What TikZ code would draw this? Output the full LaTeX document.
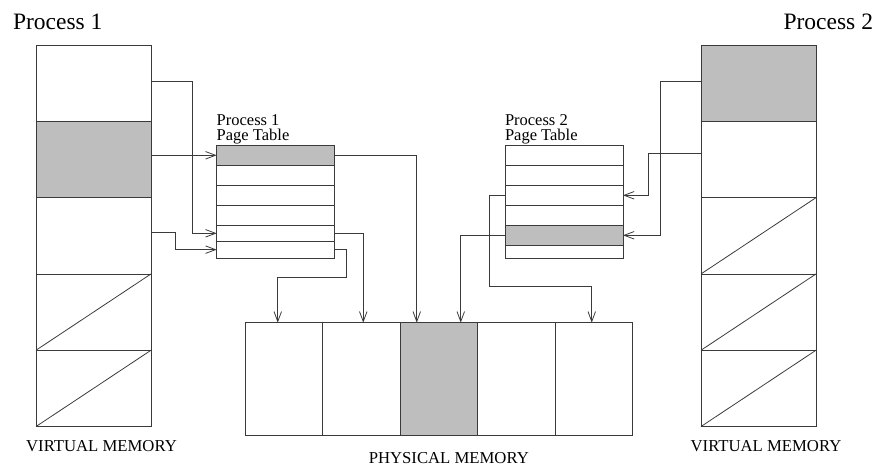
\documentclass[tikz,border=0pt]{standalone}
\usepackage{fontspec}
\setmainfont{Liberation Serif}
\usetikzlibrary{arrows.meta, positioning}
\definecolor{pagegray}{HTML}{BEBEBE}
\definecolor{lineink}{HTML}{3A3A3A}

\begin{document}
\begin{tikzpicture}[
    x=1pt, y=-1pt,
    every node/.style={inner sep=0pt, outer sep=0pt},
    ink/.style={draw=lineink, line width=0.8pt},
    frame/.style={rectangle, ink},
    vmseg/.style={frame, minimum width=115pt, minimum height=76.3pt},
    ptrow/.style={frame, minimum width=118pt},
    pmpage/.style={frame, minimum width=77.5pt, minimum height=113pt},
    inuse/.style={fill=pagegray},
    link/.style={ink, -{Straight Barb[length=10pt,width=7.5pt]}},
    title/.style={font=\fontsize{23.5}{26}\selectfont},
    ptlabel/.style={font=\fontsize{16.5}{15.2}\selectfont, align=left},
    memlabel/.style={font=\fontsize{16.7}{18}\selectfont},
]
\useasboundingbox (0,0) rectangle (876,465);

%% ============ VIRTUAL MEMORY, PROCESS 1 ============
\node[vmseg] (vl1) at (93.5, 83.2) {};
\node[vmseg, inuse, below=0pt of vl1] (vl2) {};
\node[vmseg, below=0pt of vl2] (vl3) {};
\node[vmseg, below=0pt of vl3] (vl4) {};
\node[vmseg, below=0pt of vl4] (vl5) {};
\draw[ink] (vl4.south west) -- (vl4.north east);
\draw[ink] (vl5.south west) -- (vl5.north east);

%% ============ VIRTUAL MEMORY, PROCESS 2 ============
\node[vmseg, inuse] (vr1) at (758.5, 83.2) {};
\node[vmseg, below=0pt of vr1] (vr2) {};
\node[vmseg, below=0pt of vr2] (vr3) {};
\node[vmseg, below=0pt of vr3] (vr4) {};
\node[vmseg, below=0pt of vr4] (vr5) {};
\draw[ink] (vr3.south west) -- (vr3.north east);
\draw[ink] (vr4.south west) -- (vr4.north east);
\draw[ink] (vr5.south west) -- (vr5.north east);

%% ============ PAGE TABLES ============
\node[ptrow, inuse, minimum height=20pt] (p1r1) at (275.7, 155.3) {};
\node[ptrow, minimum height=20pt, below=0pt of p1r1] (p1r2) {};
\node[ptrow, minimum height=20pt, below=0pt of p1r2] (p1r3) {};
\node[ptrow, minimum height=20pt, below=0pt of p1r3] (p1r4) {};
\node[ptrow, minimum height=16pt, below=0pt of p1r4] (p1r5) {};
\node[ptrow, minimum height=16.7pt, below=0pt of p1r5] (p1r6) {};

\node[ptrow, minimum height=20pt] (p2r1) at (564, 155.3) {};
\node[ptrow, minimum height=20pt, below=0pt of p2r1] (p2r2) {};
\node[ptrow, minimum height=20pt, below=0pt of p2r2] (p2r3) {};
\node[ptrow, minimum height=20pt, below=0pt of p2r3] (p2r4) {};
\node[ptrow, inuse, minimum height=20pt, below=0pt of p2r4] (p2r5) {};
\node[ptrow, minimum height=12.7pt, below=0pt of p2r5] (p2r6) {};

\node[ptlabel, anchor=south west] (p1lab) at ([yshift=1pt]p1r1.north west) {Process 1\\Page Table};
\node[ptlabel, anchor=south west] (p2lab) at ([yshift=1pt]p2r1.north west) {Process 2\\Page Table};

%% ============ PHYSICAL MEMORY ============
\node[pmpage] (pm1) at (283.75, 379.2) {};
\node[pmpage, right=0pt of pm1] (pm2) {};
\node[pmpage, inuse, right=0pt of pm2] (pm3) {};
\node[pmpage, right=0pt of pm3] (pm4) {};
\node[pmpage, right=0pt of pm4] (pm5) {};

%% ============ LINKS, PROCESS 1 ============
\draw[link] ([yshift=1.5pt]vl1.east) -- ++(41.3,0) |- (p1r5.west);
\draw[link] (vl2.east |- p1r1.west) -- (p1r1.west);
\draw[link] ([yshift=3pt]vl3.east) -- ++(24.7,0) |- (p1r6.west);

\draw[link] (p1r1.east) -| ([xshift=-22pt]pm3.north);
\draw[link] (p1r5.east) -| ([xshift=2pt]pm2.north);
\draw[link] (p1r6.east) -- ++(12,0) -- ++(0,28) -| ([xshift=-6pt]pm1.north);

%% ============ LINKS, PROCESS 2 ============
\draw[link] ([yshift=1.5pt]vr1.west) -- ++(-41,0) |- (p2r5.east);
\draw[link] ([yshift=6pt]vr2.west) -- ++(-52.7,0) |- (p2r3.east);

\draw[link] (p2r3.west) -- ++(-15.3,0) -- ++(0,90.7) -| ([xshift=-2pt]pm5.north);
\draw[link] (p2r5.west) -| ([xshift=22pt]pm3.north);

%% ============ LABELS ============
\node[title, anchor=base west] (proc1) at (13, 30) {Process 1};
\node[title, anchor=base east] (proc2) at (873, 30) {Process 2};
\node[memlabel, anchor=base] (vlab1) at (101.5, 451.7) {VIRTUAL MEMORY};
\node[memlabel, anchor=base] (vlab2) at (766, 451.7) {VIRTUAL MEMORY};
\node[memlabel, anchor=base] (pmlab) at (448.8, 463) {PHYSICAL MEMORY};

\end{tikzpicture}
\end{document}
